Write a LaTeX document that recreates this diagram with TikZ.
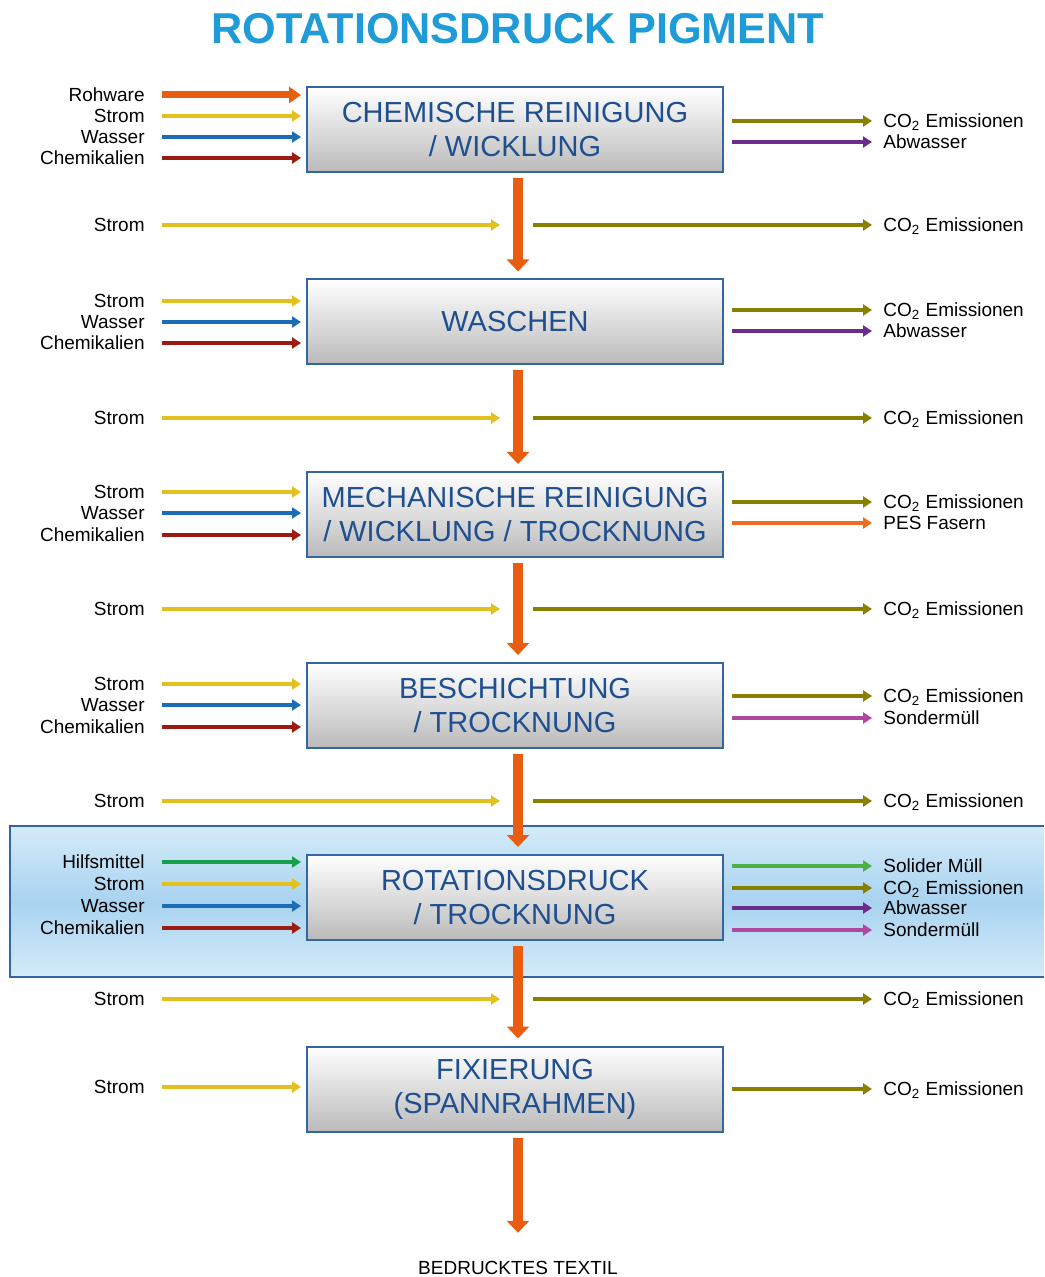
\documentclass[tikz,border=0pt]{standalone}
\usepackage{fontspec}
\setmainfont{Liberation Sans}
\usepackage{tikz}
\usetikzlibrary{arrows.meta}

\definecolor{titleblue}{HTML}{1F9BD7}
\definecolor{boxtext}{HTML}{1F4F8F}
\definecolor{boxline}{HTML}{3465A4}
\definecolor{bandtop}{HTML}{D4EBF9}
\definecolor{bandmid}{HTML}{A9D3F0}
\definecolor{rohorange}{HTML}{E85D10}
\definecolor{stromyellow}{HTML}{E3C01E}
\definecolor{wasserblue}{HTML}{1A6DB5}
\definecolor{chemred}{HTML}{9C1A10}
\definecolor{cotwo}{HTML}{878000}
\definecolor{abwasser}{HTML}{6B2C8C}
\definecolor{pesorange}{HTML}{EE6B1F}
\definecolor{sondermag}{HTML}{B0479E}
\definecolor{hilfsgreen}{HTML}{17A04B}
\definecolor{muellgreen}{HTML}{4DB045}

\newcommand{\coem}{CO\textsubscript{2} Emissionen}

\tikzset{
  stage/.style={draw=boxline, line width=1pt, top color=white, bottom color=black!27,
    minimum width=208pt, minimum height=42.5pt, inner sep=0pt, align=center,
    text=boxtext, font=\fontsize{14.5}{17}\selectfont},
  side/.style={inner sep=0pt, text height=6.8pt, text depth=0pt,
    font=\fontsize{9.5}{11}\selectfont},
  inlabel/.style={side, anchor=east},
  outlabel/.style={side, anchor=west},
  feed/.style={line width=2pt, -{Triangle[width=5.5pt,length=4.5pt]}},
  rawfeed/.style={line width=3.5pt, -{Triangle[width=8pt,length=6pt]}},
  flow/.style={rohorange, line width=5pt, -{Triangle[width=11pt,length=6pt]}},
}

\begin{document}
\begin{tikzpicture}[x=0.5pt,y=-0.5pt]
  \useasboundingbox (0,0) rectangle (1044,1277);

  % Highlighted printing step
  \shade[top color=bandtop, bottom color=bandtop, middle color=bandmid]
    (10,826) rectangle (1044,977);
  \draw[boxline, line width=1pt] (1044,826) -- (10,826) -- (10,977) -- (1044,977);

  % Title
  \node[text=titleblue, font=\bfseries\fontsize{21.6}{24}\selectfont] (head) at (518,29)
    {ROTATIONSDRUCK PIGMENT};

  % Define process steps
  \node[stage] (chem)  at (515,130)   {CHEMISCHE REINIGUNG\\/ WICKLUNG};
  \node[stage] (wasch) at (515,322)   {WASCHEN};
  \node[stage] (mech)  at (515,514.5) {MECHANISCHE REINIGUNG\\/ WICKLUNG / TROCKNUNG};
  \node[stage] (besch) at (515,705.5) {BESCHICHTUNG\\/ TROCKNUNG};
  \node[stage] (rot)   at (515,897.5) {ROTATIONSDRUCK\\/ TROCKNUNG};
  \node[stage] (fix)   at (515,1089)  {FIXIERUNG\\(SPANNRAHMEN)};
  \node[side] (textil) at (518,1268)  {BEDRUCKTES TEXTIL};

  % Main flow
  \foreach \a/\b in {chem/wasch, wasch/mech, mech/besch, besch/rot, rot/fix}
    \draw[flow, shorten <=2.5pt, shorten >=3.5pt] ([xshift=1.5pt]\a.south) -- ([xshift=1.5pt]\b.north);
  \draw[flow, shorten <=2.5pt, shorten >=14pt] ([xshift=1.5pt]fix.south) -- (textil.north);

  % Raw goods
  \node[inlabel] (roh) at (145,95) {Rohware};
  \draw[rawfeed, rohorange, shorten >=2.5pt] ([xshift=8.5pt]roh.east) -- (chem.west |- roh.east);

  % Inputs
  \foreach \st/\y/\txt/\col [count=\i] in {
      chem/116/Strom/stromyellow, chem/137/Wasser/wasserblue, chem/158/Chemikalien/chemred,
      wasch/301/Strom/stromyellow, wasch/322/Wasser/wasserblue, wasch/343/Chemikalien/chemred,
      mech/492/Strom/stromyellow, mech/513/Wasser/wasserblue, mech/535/Chemikalien/chemred,
      besch/684/Strom/stromyellow, besch/705/Wasser/wasserblue, besch/727/Chemikalien/chemred,
      rot/862/Hilfsmittel/hilfsgreen, rot/884/Strom/stromyellow, rot/906/Wasser/wasserblue,
      rot/928/Chemikalien/chemred, fix/1087/Strom/stromyellow}
  {
    \node[inlabel] (in\i) at (145,\y) {\txt};
    \draw[feed, \col, shorten >=2.5pt] ([xshift=8.5pt]in\i.east) -- (\st.west |- in\i.east);
  }

  % Outputs
  \foreach \st/\y/\txt/\col [count=\i] in {
      chem/121/\coem/cotwo, chem/142/Abwasser/abwasser,
      wasch/310/\coem/cotwo, wasch/331/Abwasser/abwasser,
      mech/502/\coem/cotwo, mech/523/PES Fasern/pesorange,
      besch/696/\coem/cotwo, besch/718/Sondermüll/sondermag,
      rot/866/Solider Müll/muellgreen, rot/888/\coem/cotwo, rot/908/Abwasser/abwasser,
      rot/930/Sondermüll/sondermag, fix/1089/\coem/cotwo}
  {
    \node[outlabel] (out\i) at (883,\y) {\txt};
    \draw[feed, \col, shorten <=4pt] (\st.east |- out\i.west) -- ([xshift=-5.5pt]out\i.west);
  }

  % Transport between steps
  \foreach \y [count=\i] in {225, 418, 609, 801, 999}
  {
    \coordinate (gap\i) at (518,\y);
    \node[inlabel] (strom\i) at (145,\y) {Strom};
    \node[outlabel] (em\i) at (883,\y) {\coem};
    \draw[feed, stromyellow] ([xshift=8.5pt]strom\i.east) -- ([xshift=-9pt]gap\i);
    \draw[feed, cotwo] ([xshift=7.5pt]gap\i) -- ([xshift=-5.5pt]em\i.west);
  }
\end{tikzpicture}
\end{document}
